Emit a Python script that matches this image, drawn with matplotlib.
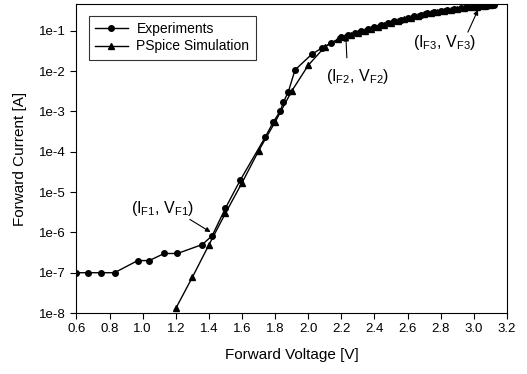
import math
import matplotlib
matplotlib.use("Agg")
import matplotlib.pyplot as plt
from matplotlib.ticker import FixedLocator, FuncFormatter

# Experimental I-V data (V, A)
exp_v = [0.60, 0.67, 0.75, 0.83, 0.97, 1.04, 1.13, 1.21, 1.36, 1.42,
         1.50, 1.59, 1.74, 1.79, 1.83, 1.85, 1.88, 1.92, 2.02, 2.08, 2.14,
         2.20, 2.24, 2.28, 2.32, 2.36, 2.40, 2.44, 2.48, 2.52, 2.56, 2.60,
         2.64, 2.68, 2.72, 2.76, 2.80, 2.84, 2.88, 2.92, 2.96, 3.00, 3.04,
         3.08, 3.12]
exp_i = [1e-7, 1e-7, 1e-7, 1e-7, 2e-7, 2e-7, 3e-7, 3e-7, 5e-7, 8.3e-7,
         4e-6, 2e-5, 2.3e-4, 5.6e-4, 1e-3, 1.7e-3, 3.1e-3, 1.07e-2, 2.6e-2, 3.7e-2, 5e-2,
         0.069, 0.078, 0.087, 0.098, 0.110, 0.123, 0.138, 0.155, 0.172, 0.19, 0.209,
         0.229, 0.251, 0.272, 0.292, 0.309, 0.327, 0.347, 0.363, 0.380, 0.394, 0.407,
         0.422, 0.437]

# PSpice simulation
sim_v = [1.20, 1.30, 1.40, 1.50, 1.60, 1.70, 1.80, 1.90, 2.00, 2.10,
         2.18, 2.22, 2.26, 2.30, 2.34, 2.38, 2.42, 2.46, 2.50, 2.54, 2.58,
         2.62, 2.66, 2.70, 2.74, 2.78, 2.82, 2.86, 2.90, 2.94, 2.98, 3.02,
         3.06, 3.10]
sim_i = [1.3e-8, 7.7e-8, 4.9e-7, 3e-6, 1.7e-5, 1.05e-4, 5.5e-4, 3.2e-3, 1.4e-2, 4e-2,
         0.062, 0.071, 0.080, 0.090, 0.101, 0.113, 0.126, 0.142, 0.159, 0.176, 0.195,
         0.214, 0.234, 0.255, 0.275, 0.293, 0.310, 0.330, 0.349, 0.366, 0.382, 0.396,
         0.410, 0.425]

x_ticks = [0.6, 0.8, 1.0, 1.2, 1.4, 1.6, 1.8, 2.0, 2.2, 2.4, 2.6, 2.8, 3.0, 3.2]
y_ticks = [1e-8, 1e-7, 1e-6, 1e-5, 1e-4, 1e-3, 1e-2, 1e-1]

plt.rcParams['font.family'] = ['Liberation Sans', 'DejaVu Sans']
plt.rcParams['mathtext.fontset'] = 'custom'
plt.rcParams['mathtext.rm'] = 'Liberation Sans'
plt.rcParams['mathtext.it'] = 'Liberation Sans'

fig = plt.figure(figsize=(5.27, 3.74), dpi=100)
ax = fig.add_axes([0.145, 0.163, 0.817, 0.826])

ax.plot(exp_v, exp_i, color='black', lw=1.0, marker='o', ms=4,
        label='Experiments')
ax.plot(sim_v, sim_i, color='black', lw=1.0, marker='^', ms=4,
        label='PSpice Simulation')

ax.set_yscale('log')
ax.set_xlim(0.6, 3.2)
ax.set_ylim(1e-8, 0.46)
ax.xaxis.set_major_locator(FixedLocator(x_ticks))
ax.xaxis.set_major_formatter(FuncFormatter(lambda v, p: f"{v:.1f}"))
ax.yaxis.set_major_locator(FixedLocator(y_ticks))
ax.yaxis.set_minor_locator(FixedLocator([]))
ax.yaxis.set_major_formatter(FuncFormatter(lambda v, p: f"1e{round(math.log10(v))}"))
ax.tick_params(direction='out', length=4, width=0.8, labelsize=9.5, colors='black')

ax.set_xlabel('Forward Voltage [V]', fontsize=11, labelpad=9)
ax.set_ylabel('Forward Current [A]', fontsize=11, labelpad=9)

leg = ax.legend(loc='upper left', bbox_to_anchor=(0.012, 0.985), fontsize=10,
                frameon=True, fancybox=False, edgecolor='black',
                handlelength=2.4, borderpad=0.45, labelspacing=0.25,
                handletextpad=0.6)
leg.get_frame().set_linewidth(0.8)

arrow = dict(arrowstyle='-|>', color='black', lw=0.8, mutation_scale=7,
             shrinkA=0, shrinkB=0)

# annotations
ax.text(1.122, 4.0e-6, '(I$_{\\mathrm{F1}}$, V$_{\\mathrm{F1}}$)', fontsize=11.5,
        ha='center', va='center')
ax.annotate('', xy=(1.41, 1.02e-6), xytext=(1.285, 2.1e-6), arrowprops=arrow)

ax.text(2.30, 7.2e-3, '(I$_{\\mathrm{F2}}$, V$_{\\mathrm{F2}}$)', fontsize=11.5,
        ha='center', va='center')
ax.annotate('', xy=(2.227, 0.075), xytext=(2.233, 0.0214), arrowprops=arrow)

ax.text(2.825, 0.05, '(I$_{\\mathrm{F3}}$, V$_{\\mathrm{F3}}$)', fontsize=11.5,
        ha='center', va='center')
ax.annotate('', xy=(3.025, 0.33), xytext=(2.964, 0.093), arrowprops=arrow)

fig.savefig('out.png', dpi=100)
